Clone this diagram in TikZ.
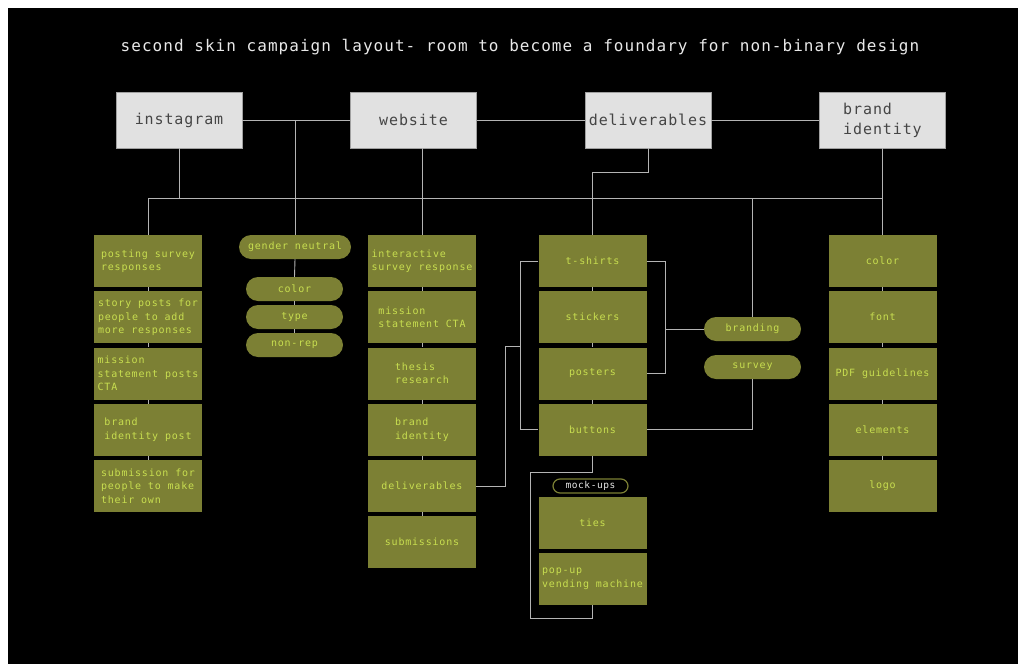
\documentclass[tikz,border=0pt]{standalone}
\usepackage{fontspec}
\newfontfamily\titlefam[LetterSpace=6.5]{DejaVu Sans Mono}
\newfontfamily\topfam[LetterSpace=6]{DejaVu Sans Mono}
\newfontfamily\boxfam[LetterSpace=8]{DejaVu Sans Mono}
\newfontfamily\mockfam[LetterSpace=6]{DejaVu Sans Mono}
\definecolor{olivebox}{HTML}{7C8034}
\definecolor{olivetext}{HTML}{C8DE50}
\definecolor{topgray}{HTML}{E1E1E1}
\definecolor{topedge}{HTML}{A0A0A0}
\definecolor{toptext}{HTML}{454545}
\definecolor{linegray}{HTML}{B4B4B4}
\definecolor{titlecol}{HTML}{E8E8E8}
\tikzset{
  topbox/.style={draw=topedge, line width=0.8pt, fill=topgray, minimum width=126pt, minimum height=56pt, inner sep=0pt, text=toptext, font=\topfam\fontsize{15}{20}\selectfont, align=left},
  obox/.style={fill=olivebox, minimum width=108pt, minimum height=52pt, inner sep=2pt, text=olivetext, font=\boxfam\fontsize{10}{13.5}\selectfont, align=left},
  pill/.style={fill=olivebox, rounded corners=12pt, minimum width=97pt, minimum height=24pt, inner sep=0pt, text=olivetext, font=\boxfam\fontsize{10}{13.5}\selectfont},
  mockpill/.style={draw=olivebox, line width=1.2pt, fill=black, rounded corners=7pt, minimum width=75pt, minimum height=14pt, inner sep=0pt, text=titlecol, font=\mockfam\fontsize{9.5}{11}\selectfont},
  link/.style={draw=linegray, line width=0.9pt},
}
\begin{document}
\begin{tikzpicture}[x=1pt,y=-1pt]
\useasboundingbox (0,0) rectangle (1018,664);
\fill[white] (0,0) rectangle (1018,664);
\fill[black] (8,8) rectangle (1018,664);

\node[text=titlecol, font=\titlefam\fontsize{16}{20}\selectfont] (title) at (520,47) {second skin campaign layout- room to become a foundary for non-binary design};

% top boxes
\node[topbox] (insta) at (179,120) {instagram};
\node[topbox] (web) at (413.5,120) {website};
\node[topbox] (deliv) at (648,120) {deliverables};
\node[topbox] (brand) at (882.5,120) {brand\\identity};

% column A
\node[obox] (a1) at (148,261) {posting survey\\responses};
\node[obox] (a2) at (148,317.25) {story posts for\\people to add\\more responses};
\node[obox] (a3) at (148,373.5) {mission\\statement posts\\CTA};
\node[obox] (a4) at (148,429.75) {brand\\identity post};
\node[obox] (a5) at (148,486) {submission for\\people to make\\their own};

% pills
\node[pill, minimum width=112pt] (gender) at (295,247) {gender neutral};
\node[pill] (pc) at (294.5,289) {color};
\node[pill] (pt) at (294.5,317) {type};
\node[pill] (pn) at (294.5,345) {non-rep};

% column B
\node[obox] (b1) at (422,261) {interactive\\survey response};
\node[obox] (b2) at (422,317.25) {mission\\statement CTA};
\node[obox] (b3) at (422,373.5) {thesis\\research};
\node[obox] (b4) at (422,429.75) {brand\\identity};
\node[obox] (b5) at (422,486) {deliverables};
\node[obox] (b6) at (422,542.25) {submissions};

% column C
\node[obox] (c1) at (592.5,261) {t-shirts};
\node[obox] (c2) at (592.5,317.25) {stickers};
\node[obox] (c3) at (592.5,373.5) {posters};
\node[obox] (c4) at (592.5,429.75) {buttons};
\node[mockpill] (mock) at (590.5,486) {mock-ups};
\node[obox] (ties) at (592.5,523) {ties};
\node[obox] (popup) at (592.5,579) {pop-up\\vending machine};

\node[pill] (branding) at (752.5,329) {branding};
\node[pill] (survey) at (752.5,367) {survey};

% column D
\node[obox] (d1) at (882.5,261) {color};
\node[obox] (d2) at (882.5,317.25) {font};
\node[obox] (d3) at (882.5,373.5) {PDF guidelines};
\node[obox] (d4) at (882.5,429.75) {elements};
\node[obox] (d5) at (882.5,486) {logo};

% coordinates
\coordinate (busL) at (148,198);
\coordinate (busR) at (882.5,198);
\coordinate (lbk) at (505,346);
\coordinate (brkL) at (520,346);
\coordinate (rbk) at (665,329);
\coordinate (mk1) at (530,472);
\coordinate (mk2) at (530,618);

% connectors
\draw[link] (insta.east) -- (web.west);
\draw[link] (web.east) -- (deliv.west);
\draw[link] (deliv.east) -- (brand.west);
\draw[link] (insta.east -| gender.north) -- (gender.north);
\draw[link] (busL) -- (busR);
\draw[link] (insta.south) -- (insta.south |- busL);
\draw[link] (busL) -- (a1.north);
\draw[link] (web.south -| b1.north) -- (b1.north);
\draw[link] (deliv.south) -- ++(0,24) -| (c1.north);
\draw[link] (brand.south) -- (d1.north);
\draw[link] (branding.north |- busL) -- (branding.north);

\foreach \u/\v in {a1/a2,a2/a3,a3/a4,a4/a5,b1/b2,b2/b3,b3/b4,b4/b5,b5/b6,c1/c2,c2/c3,c3/c4,d1/d2,d2/d3,d3/d4,d4/d5,gender/pc,pc/pt,pt/pn}
  \draw[link] (\u.south) -- (\v.north);

\draw[link] (b5.east) -- (b5.east -| lbk) -- (lbk) -- (brkL);
\draw[link] (c1.west) -- (c1.west -| brkL) -- (c4.west -| brkL) -- (c4.west);
\draw[link] (c1.east) -- (c1.east -| rbk) -- (c3.east -| rbk) -- (c3.east);
\draw[link] (rbk) -- (branding.west);
\draw[link] (survey.south) |- (c4.east);
\draw[link] (c4.south) |- (mk1) -- (mk2) -| (popup.south);
\end{tikzpicture}
\end{document}
